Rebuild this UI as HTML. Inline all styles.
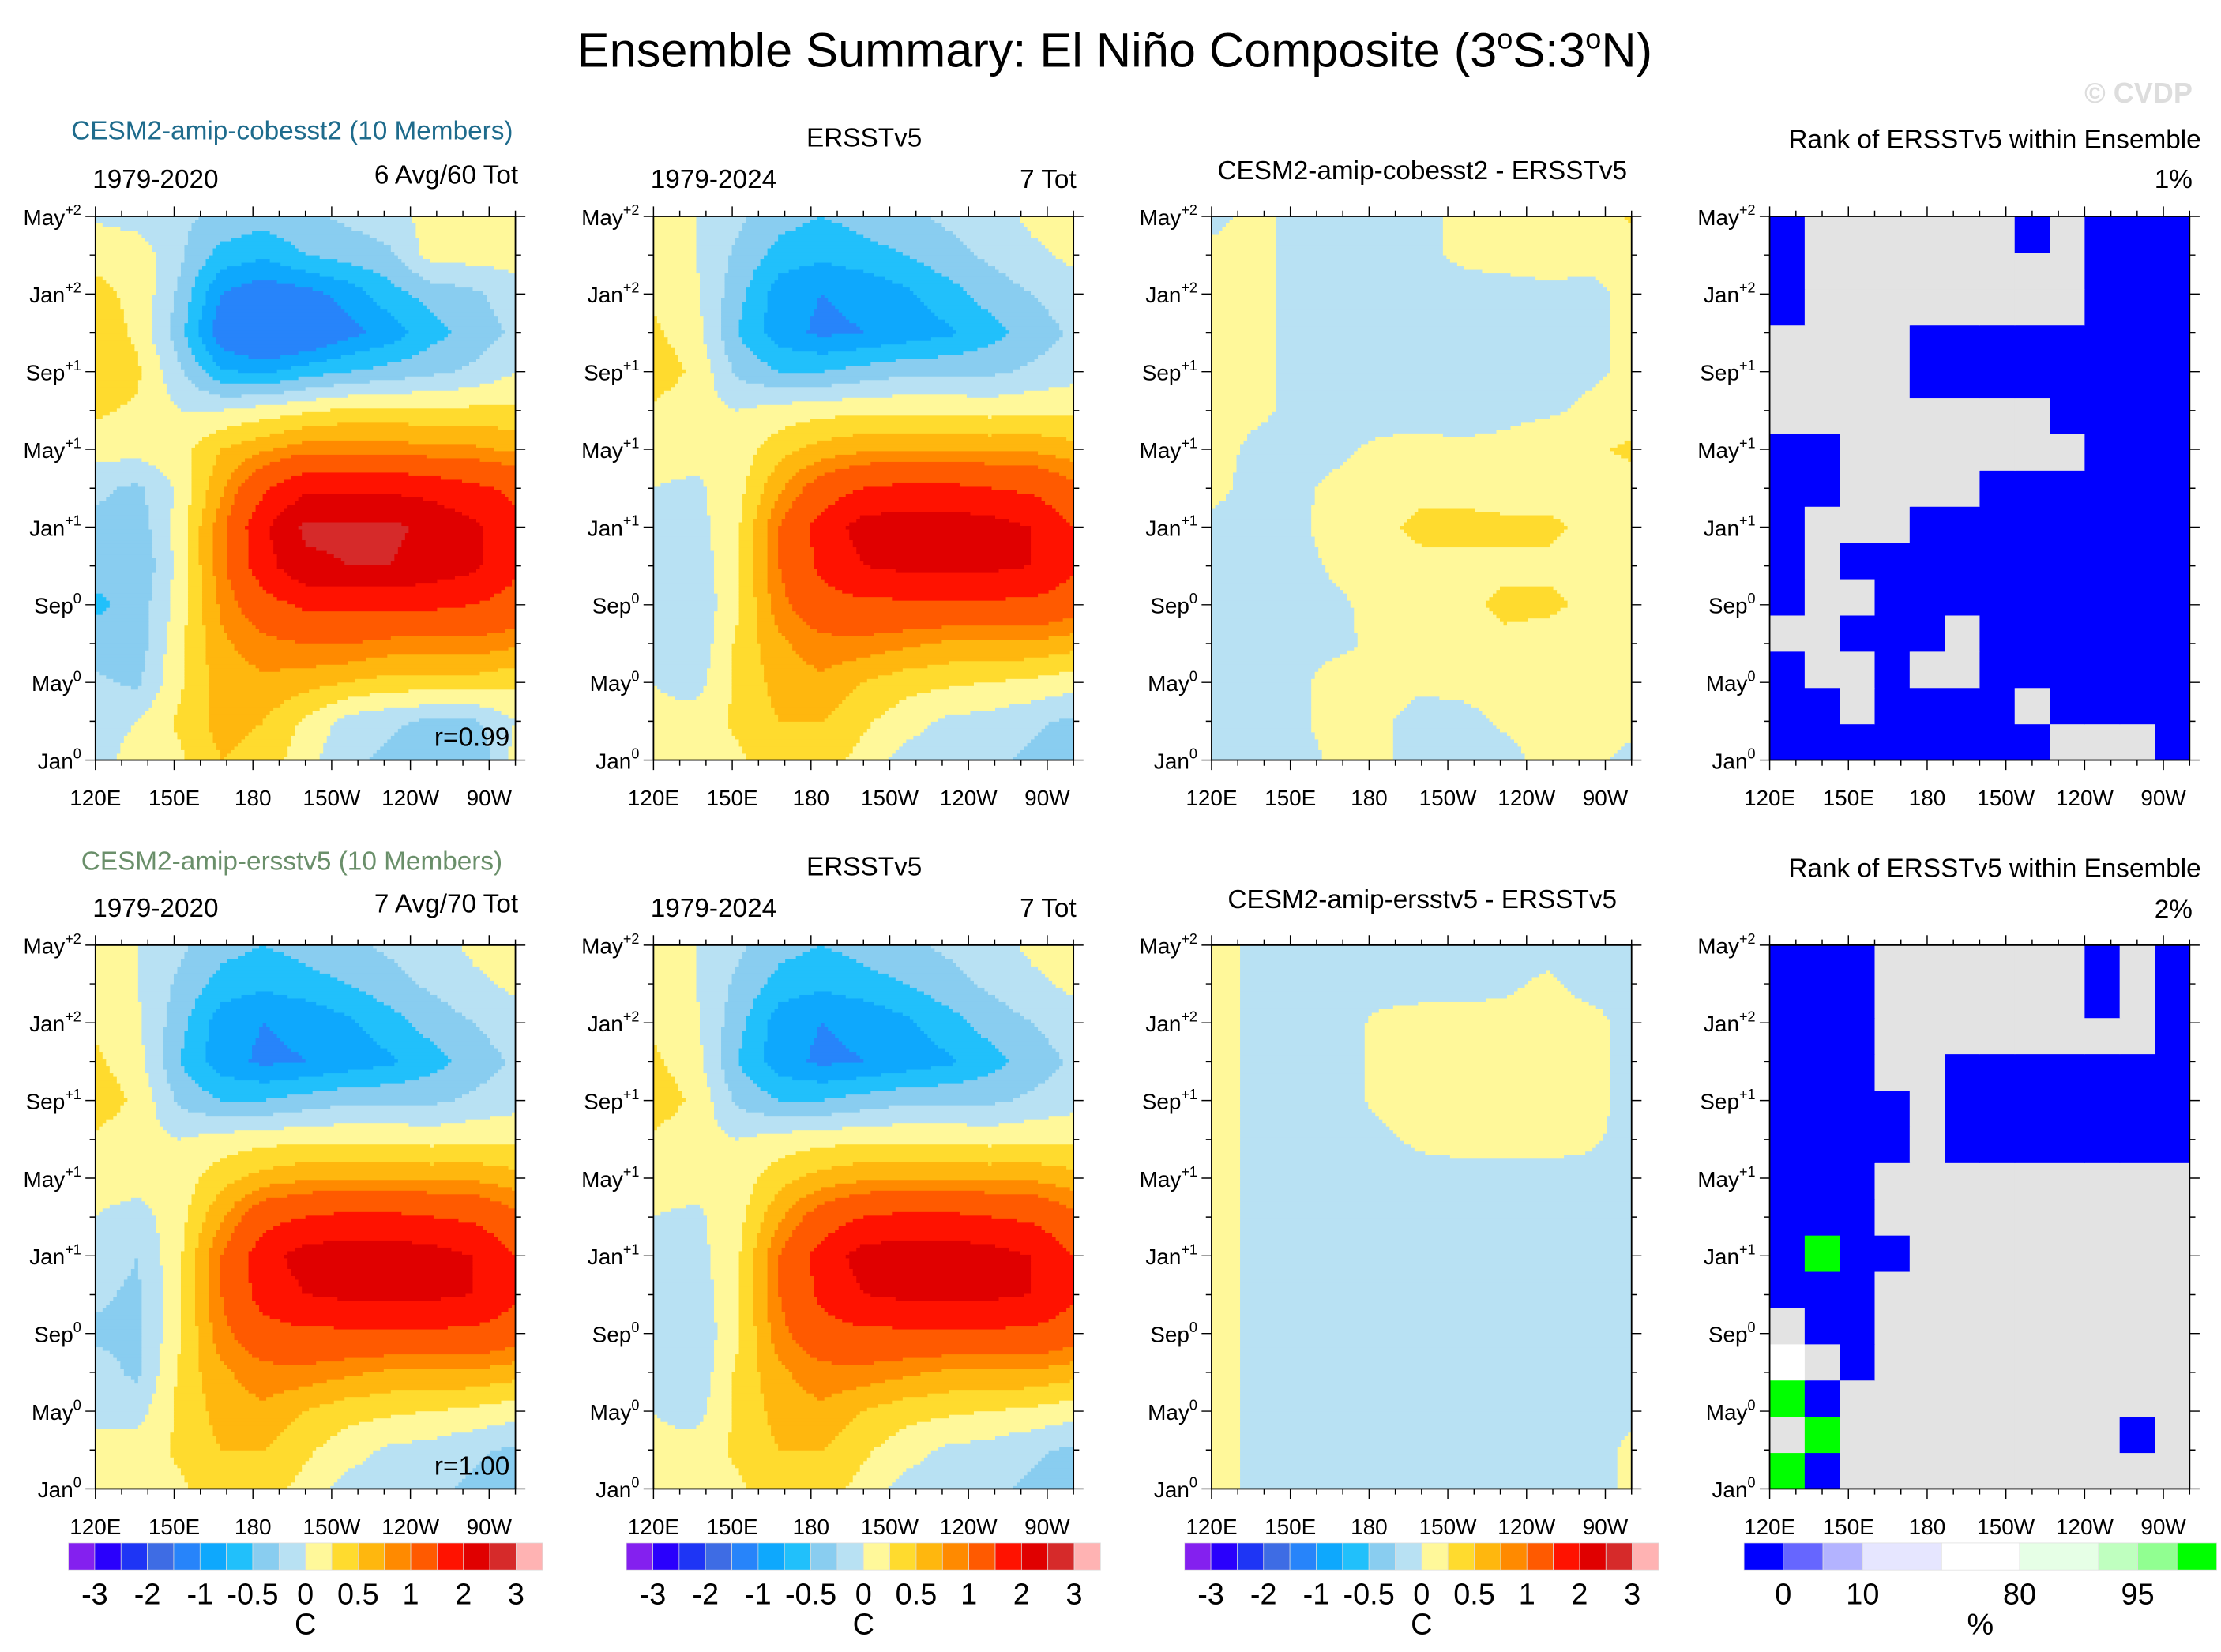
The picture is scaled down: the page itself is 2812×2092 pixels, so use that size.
<!DOCTYPE html>
<html><head><meta charset="utf-8"><style>
html,body{margin:0;padding:0;background:#fff}
svg{display:block;font-family:"Liberation Sans",Arial,sans-serif}
</style></head><body>
<svg id="fig" width="2812" height="2092" viewBox="0 0 1560 1160.6" xmlns="http://www.w3.org/2000/svg">
<rect x="0" y="0" width="1560" height="1161" fill="#fff"/>
<text x="783" y="47" font-size="34" text-anchor="middle">Ensemble Summary: El Niño Composite (3<tspan dy="-13" font-size="20">o</tspan><tspan dy="13">S:3</tspan><tspan dy="-13" font-size="20">o</tspan><tspan dy="13">N)</tspan></text>
<text x="1540" y="72" font-size="20" font-weight="bold" fill="#dddddd" text-anchor="end">© CVDP</text>
<g id="panels"></g>
</svg>
<script>
// ---- data ----
const lons = [120,136,152,168,184,200,216,232,248,264,280];
const months = [0,2,4,6,8,10,12,14,16,18,20,22,24,26,28];
const levels = [-3,-2.5,-2,-1.5,-1,-0.75,-0.5,-0.25,0,0.25,0.5,0.75,1,1.5,2,2.5,3];
const levelColors = ['#8420ef','#2a00fc','#1e35f5','#3e6ce4','#2784fa','#0ea8fd','#21c0fb','#89cdf0','#b8e1f3','#fff89a','#ffdb2e','#ffb70e','#ff8a00','#ff5a00','#ff1200','#e00000','#d62a2a','#ffb3b3'];
const colorbarLabels = ['-3','-2','-1','-0.5','0','0.5','1','2','3'];
const xTickLabels = ['120E','150E','180','150W','120W','90W'];
const xTickLons = [120,150,180,210,240,270];
const yTickLabels = [['Jan','0'],['May','0'],['Sep','0'],['Jan','+1'],['May','+1'],['Sep','+1'],['Jan','+2'],['May','+2']];
const yTickMonths = [0,4,8,12,16,20,24,28];

const fieldCobesst = [
[-0.1,0.1,0.2,0.5,0.4,0.1,-0.2,-0.3,-0.5,-0.5,0.1],
[-0.1,0,0.3,0.6,0.5,0.2,-0.1,-0.2,-0.3,-0.3,0],
[-0.2,-0.3,0.2,0.6,0.7,0.6,0.5,0.4,0.4,0.4,0.3],
[-0.4,-0.4,0.2,0.7,0.9,1.0,1.0,0.9,0.9,0.9,0.8],
[-0.55,-0.4,0.1,0.8,1.3,1.6,1.6,1.6,1.6,1.5,1.3],
[-0.4,-0.5,0.1,0.9,1.8,2.4,2.5,2.5,2.3,2.1,1.6],
[-0.3,-0.4,0.1,0.9,1.9,2.6,2.6,2.6,2.4,2.1,1.6],
[-0.2,-0.3,0.05,0.7,1.4,1.9,1.9,1.9,1.8,1.6,1.4],
[0.1,0.1,0.15,0.5,0.7,0.9,0.9,0.9,0.8,0.8,0.7],
[0.3,0.2,0,0,0.1,0.2,0.3,0.3,0.3,0.3,0.3],
[0.5,0.3,-0.2,-0.7,-0.8,-0.6,-0.5,-0.4,-0.3,-0.2,0],
[0.4,0.2,-0.4,-1.2,-1.5,-1.4,-1.1,-0.9,-0.6,-0.4,-0.2],
[0.3,0.2,-0.3,-1.0,-1.2,-1.1,-0.9,-0.6,-0.4,-0.3,-0.1],
[0.2,0.15,-0.2,-0.6,-0.7,-0.5,-0.4,-0.3,0.1,0.1,0.1],
[-0.05,-0.1,-0.2,-0.3,-0.4,-0.3,-0.2,-0.1,0.1,0.1,0.05]];
const fieldErsst = [
[0.1,0.1,0.2,0.4,0.4,0.15,-0.1,-0.1,-0.2,-0.3,-0.4],
[0.05,0.1,0.3,0.5,0.5,0.3,0.1,-0.05,-0.1,-0.2,-0.3],
[0,-0.1,0.3,0.6,0.7,0.5,0.35,0.3,0.25,0.2,0.1],
[-0.1,-0.2,0.3,0.7,0.9,0.9,0.8,0.7,0.7,0.7,0.6],
[-0.1,-0.2,0.2,0.9,1.3,1.4,1.4,1.4,1.4,1.4,1.2],
[-0.15,-0.15,0.2,1.0,1.6,2.0,2.1,2.1,2.1,2.0,1.6],
[-0.1,-0.1,0.2,1.0,1.7,2.2,2.3,2.3,2.2,2.0,1.5],
[0,-0.05,0.15,0.7,1.2,1.5,1.6,1.6,1.5,1.4,1.1],
[0.1,0.1,0.1,0.4,0.6,0.7,0.7,0.7,0.7,0.7,0.6],
[0.2,0.1,0,0.1,0.15,0.2,0.2,0.2,0.15,0.2,0.2],
[0.4,0.2,-0.3,-0.5,-0.5,-0.4,-0.3,-0.3,-0.3,-0.2,-0.1],
[0.3,0.1,-0.5,-0.9,-1.05,-1.0,-0.9,-0.8,-0.6,-0.4,-0.2],
[0.2,0.05,-0.4,-0.9,-1.0,-0.95,-0.8,-0.6,-0.4,-0.25,-0.1],
[0.1,0,-0.3,-0.6,-0.7,-0.6,-0.5,-0.35,-0.2,-0.05,0.05],
[0.05,0,-0.2,-0.4,-0.5,-0.4,-0.3,-0.2,-0.1,0.05,0.1]];
const fieldErsstEns = [
[0.1,0.1,0.2,0.4,0.4,0.15,-0.1,-0.1,-0.2,-0.3,-0.4],
[0.05,0.1,0.3,0.5,0.5,0.3,0.1,-0.05,-0.1,-0.2,-0.3],
[-0.05,-0.1,0.3,0.6,0.7,0.5,0.35,0.3,0.25,0.2,0.1],
[-0.15,-0.3,0.3,0.7,0.9,0.9,0.8,0.7,0.7,0.7,0.6],
[-0.3,-0.3,0.2,0.9,1.3,1.4,1.4,1.4,1.4,1.4,1.2],
[-0.2,-0.3,0.2,1.0,1.7,2.0,2.1,2.1,2.1,2.0,1.6],
[-0.1,-0.25,0.2,1.0,1.8,2.2,2.3,2.3,2.2,2.0,1.5],
[0,-0.1,0.15,0.7,1.3,1.5,1.6,1.6,1.5,1.4,1.1],
[0.1,0.1,0.1,0.4,0.6,0.7,0.7,0.7,0.7,0.7,0.6],
[0.2,0.1,0,0.1,0.15,0.2,0.2,0.2,0.15,0.2,0.2],
[0.4,0.2,-0.3,-0.5,-0.5,-0.4,-0.3,-0.3,-0.3,-0.2,-0.1],
[0.3,0.1,-0.5,-0.9,-1.05,-1.0,-0.9,-0.8,-0.6,-0.4,-0.2],
[0.2,0.05,-0.4,-0.9,-1.0,-0.95,-0.8,-0.6,-0.4,-0.25,-0.1],
[0.1,0,-0.3,-0.6,-0.7,-0.6,-0.5,-0.35,-0.2,-0.05,0.05],
[0.05,0,-0.2,-0.4,-0.5,-0.4,-0.3,-0.2,-0.1,0.05,0.1]];
const fieldDiffCobesst = [
[-0.1,-0.1,-0.1,0.05,0.05,-0.1,-0.1,-0.1,0.1,0.1,-0.1],
[-0.1,-0.1,-0.05,0.1,0.05,-0.1,-0.1,0.05,0.1,0.1,0.1],
[-0.1,-0.1,-0.05,0.1,0.1,0.05,0.1,0.15,0.1,0.1,0.05],
[-0.1,-0.1,-0.1,-0.05,0.05,0.1,0.15,0.2,0.15,0.1,0.05],
[-0.1,-0.15,-0.1,-0.05,0.1,0.15,0.2,0.3,0.3,0.2,0.1],
[-0.1,-0.1,-0.1,0.05,0.15,0.2,0.2,0.2,0.2,0.15,0.1],
[-0.1,-0.1,-0.05,0.1,0.2,0.3,0.3,0.3,0.3,0.2,0.1],
[0.1,-0.1,-0.05,0.05,0.15,0.2,0.2,0.15,0.15,0.15,0.15],
[0.1,-0.05,-0.05,-0.05,0.05,0.1,0.1,0.1,0.2,0.2,0.3],
[0.1,0.05,-0.05,-0.1,-0.1,-0.15,-0.2,-0.1,-0.05,0.05,0.1],
[0.1,0.05,-0.05,-0.1,-0.1,-0.1,-0.15,-0.1,-0.05,-0.05,0.05],
[0.1,0.05,-0.05,-0.1,-0.1,-0.1,-0.1,-0.1,-0.05,-0.05,0.05],
[0.1,0.05,-0.05,-0.1,-0.1,-0.1,-0.1,-0.1,-0.05,-0.05,0.05],
[0.05,0.05,-0.05,-0.1,-0.1,-0.05,0.05,0.1,0.1,0.05,0.1],
[-0.05,0.05,-0.05,-0.05,-0.1,-0.05,0.05,0.05,0.1,0.1,0.3]];
const fieldDiffErsst = [
[0.1,-0.05,-0.1,-0.1,-0.1,-0.1,-0.1,-0.1,-0.1,-0.1,0.05],
[0.1,-0.05,-0.1,-0.1,-0.1,-0.1,-0.1,-0.1,-0.1,-0.1,0.05],
[0.1,-0.05,-0.1,-0.1,-0.1,-0.1,-0.1,-0.1,-0.1,-0.1,-0.05],
[0.1,-0.05,-0.1,-0.1,-0.1,-0.1,-0.1,-0.1,-0.1,-0.1,-0.1],
[0.1,-0.05,-0.1,-0.1,-0.1,-0.1,-0.1,-0.1,-0.1,-0.1,-0.1],
[0.1,-0.05,-0.1,-0.1,-0.1,-0.1,-0.1,-0.1,-0.1,-0.1,-0.1],
[0.1,-0.05,-0.1,-0.1,-0.1,-0.1,-0.1,-0.1,-0.1,-0.1,-0.1],
[0.1,-0.05,-0.1,-0.1,-0.1,-0.1,-0.1,-0.1,-0.1,-0.1,-0.1],
[0.1,-0.05,-0.1,-0.1,-0.1,-0.1,-0.1,-0.1,-0.1,-0.1,-0.1],
[0.1,-0.05,-0.1,-0.1,-0.05,0.05,0.1,0.1,0.1,0.05,-0.1],
[0.1,-0.05,-0.1,-0.1,0.05,0.1,0.1,0.1,0.1,0.1,-0.1],
[0.1,-0.05,-0.1,-0.1,0.05,0.1,0.1,0.1,0.1,0.1,-0.1],
[0.1,-0.05,-0.1,-0.1,0.05,0.1,0.1,0.1,0.1,0.1,-0.1],
[0.1,-0.05,-0.1,-0.1,-0.1,-0.1,-0.1,-0.05,0.05,-0.1,-0.1],
[0.1,-0.05,-0.1,-0.1,-0.1,-0.1,-0.1,-0.1,-0.1,-0.1,-0.1]];
// rank categories: 0 gray, 1 blue(low), 2 green(high), 3 white
const rankColors = ['#e3e3e3','#0000ff','#00ff00','#ffffff'];
const rankTop = [
[1,1,1,1,1,1,1,1,0,0,0,1],
[1,1,0,1,1,1,1,0,1,1,1,1],
[1,0,0,1,0,0,1,1,1,1,1,1],
[0,0,1,1,1,0,1,1,1,1,1,1],
[1,0,0,1,1,1,1,1,1,1,1,1],
[1,0,1,1,1,1,1,1,1,1,1,1],
[1,0,0,0,1,1,1,1,1,1,1,1],
[1,1,0,0,0,0,1,1,1,1,1,1],
[1,1,0,0,0,0,0,0,0,1,1,1],
[0,0,0,0,0,0,0,0,1,1,1,1],
[0,0,0,0,1,1,1,1,1,1,1,1],
[0,0,0,0,1,1,1,1,1,1,1,1],
[1,0,0,0,0,0,0,0,0,1,1,1],
[1,0,0,0,0,0,0,0,0,1,1,1],
[1,0,0,0,0,0,0,1,0,1,1,1]];
const rankBottom = [
[2,1,0,0,0,0,0,0,0,0,0,0],
[0,2,0,0,0,0,0,0,0,0,1,0],
[2,1,0,0,0,0,0,0,0,0,0,0],
[3,0,1,0,0,0,0,0,0,0,0,0],
[0,1,1,0,0,0,0,0,0,0,0,0],
[1,1,1,0,0,0,0,0,0,0,0,0],
[1,2,1,1,0,0,0,0,0,0,0,0],
[1,1,1,0,0,0,0,0,0,0,0,0],
[1,1,1,0,0,0,0,0,0,0,0,0],
[1,1,1,1,0,1,1,1,1,1,1,1],
[1,1,1,1,0,1,1,1,1,1,1,1],
[1,1,1,0,0,1,1,1,1,1,1,1],
[1,1,1,0,0,0,0,0,0,0,0,1],
[1,1,1,0,0,0,0,0,0,1,0,1],
[1,1,1,0,0,0,0,0,0,1,0,1]];
const rankBarColors = ['#0000ff','#6666ff','#b3b3ff','#e6e6ff','#ffffff','#e6ffe6','#bfffbf','#91ff91','#00ff00'];
const rankBarBounds = [0,0.083,0.167,0.251,0.418,0.583,0.75,0.833,0.916,1];
const rankBarLabels = ['0','10','80','95'];

// ---- drawing ----
const NS='http://www.w3.org/2000/svg';
const root=document.getElementById('panels');
const PW=295, PH=382, LON0=120, LON1=280, M0=0, M1=28;
function mk(tag,parent){const e=document.createElementNS(NS,tag);parent.appendChild(e);return e;}
function xScale(px,lon){return px+(lon-LON0)/(LON1-LON0)*PW;}
function yScale(py,m){return py+PH-(m-M0)/(M1-M0)*PH;}
function colorFor(v){let i=0;while(i<levels.length&&v>=levels[i])i++;return levelColors[i];}
function sample(f,lon,m){
  let fi=(lon-lons[0])/(lons[1]-lons[0]);let fj=(m-months[0])/(months[1]-months[0]);
  fi=Math.max(0,Math.min(lons.length-1.0001,fi));fj=Math.max(0,Math.min(months.length-1.0001,fj));
  const i=Math.floor(fi),j=Math.floor(fj),a=fi-i,b=fj-j;
  return (f[j][i]*(1-a)+f[j][i+1]*a)*(1-b)+(f[j+1][i]*(1-a)+f[j+1][i+1]*a)*b;
}
function txt(parent,x,y,s,size,anchor,name,fill){
  const t=mk('text',parent);t.setAttribute('x',x);t.setAttribute('y',y);t.setAttribute('font-size',size);
  t.setAttribute('text-anchor',anchor||'start');if(fill)t.setAttribute('fill',fill);t.textContent=s;
  
  
  return t;
}
function drawContour(px,py,f,name){
  const g=mk('g',root);
  
  
  const step=2.5, nx=Math.ceil(PW/step), ny=Math.ceil(PH/step);
  for(let r=0;r<ny;r++){
    const y0=py+r*step, mm=M1-((r+0.5)*step)/PH*(M1-M0);
    let start=0,cur=null;
    for(let c=0;c<=nx;c++){
      let col=null;
      if(c<nx){const lon=LON0+((c+0.5)*step)/PW*(LON1-LON0);col=colorFor(sample(f,lon,mm));}
      if(col!==cur){
        if(cur!==null){const rc=mk('rect',g);rc.setAttribute('x',(px+start*step).toFixed(2));rc.setAttribute('y',y0.toFixed(2));
          rc.setAttribute('width',(Math.min((c-start)*step,PW-start*step)+0.3).toFixed(2));rc.setAttribute('height',(Math.min(step,py+PH-y0)+0.3).toFixed(2));rc.setAttribute('fill',cur);
          
          }
        cur=col;start=c;
      }
    }
  }
}
function drawRank(px,py,grid,name){
  const g=mk('g',root);
  
  
  const nc=grid[0].length, nr=grid.length, cw=PW/nc, rh=PH/nr;
  grid.forEach((row,j)=>row.forEach((v,i)=>{
    const rc=mk('rect',g);rc.setAttribute('x',(px+i*cw).toFixed(2));rc.setAttribute('y',(py+PH-(j+1)*rh).toFixed(2));
    rc.setAttribute('width',(cw+0.3).toFixed(2));rc.setAttribute('height',(rh+0.3).toFixed(2));rc.setAttribute('fill',rankColors[v]);
    
    
  }));
}
function drawAxes(px,py){
  const g=mk('g',root);
  
  
  const fr=mk('rect',g);fr.setAttribute('x',px);fr.setAttribute('y',py);fr.setAttribute('width',PW);fr.setAttribute('height',PH);
  fr.setAttribute('fill','none');fr.setAttribute('stroke','#000');fr.setAttribute('stroke-width','1');
  
  
  let d='';
  for(let lon=120;lon<=280;lon+=10){const x=xScale(px,lon),L=(lon%30===0)?7:4;d+=`M${x},${py}v${-L}M${x},${py+PH}v${L}`;}
  for(let m=0;m<=28;m+=2){const y=yScale(py,m),L=(m%4===0)?7:4;d+=`M${px},${y}h${-L}M${px+PW},${y}h${L}`;}
  const p=mk('path',g);p.setAttribute('d',d);p.setAttribute('stroke','#000');p.setAttribute('stroke-width','0.8');
  
  
  xTickLabels.forEach((s,i)=>txt(g,xScale(px,xTickLons[i]),py+PH+32,s,15.5,'middle','x-tick-label'));
  yTickLabels.forEach((s,i)=>{
    const t=txt(g,px-10,yScale(py,yTickMonths[i])+6,s[0],15.5,'end','y-tick-label');
    const ts=mk('tspan',t);ts.setAttribute('dy','-7');ts.setAttribute('font-size','10');ts.textContent=s[1];
  });
}
function drawColorbar(x0,y0,w,h){
  const g=mk('g',root);
  
  
  const bw=w/levelColors.length;
  levelColors.forEach((c,i)=>{const r=mk('rect',g);r.setAttribute('x',x0+i*bw);r.setAttribute('y',y0);r.setAttribute('width',bw);r.setAttribute('height',h);r.setAttribute('fill',c);r.setAttribute('stroke','#ddd');r.setAttribute('stroke-width','0.4');
    
    });
  colorbarLabels.forEach((s,i)=>txt(g,x0+(2*i+1)*bw,y0+h+24,s,21,'middle','colorbar-label'));
  txt(g,x0+9*bw,y0+h+45,'C',21,'middle','colorbar-units');
}
function drawRankbar(x0,y0,w,h){
  const g=mk('g',root);
  
  
  rankBarColors.forEach((c,i)=>{const r=mk('rect',g);r.setAttribute('x',x0+rankBarBounds[i]*w);r.setAttribute('y',y0);r.setAttribute('width',(rankBarBounds[i+1]-rankBarBounds[i])*w);r.setAttribute('height',h);r.setAttribute('fill',c);r.setAttribute('stroke','#ddd');r.setAttribute('stroke-width','0.4');
    
    });
  rankBarLabels.forEach((s,i)=>txt(g,x0+rankBarBounds[2*i+1]*w,y0+h+24,s,21,'middle','rank-colorbar-label'));
  txt(g,x0+0.5*w,y0+h+45,'%',21,'middle','rank-colorbar-units');
}
const cols=[67,459,851,1243], rows=[152,664];
drawContour(cols[0],rows[0],fieldCobesst,'cobesst2-ensemble-map');
drawContour(cols[1],rows[0],fieldErsst,'ersstv5-map-top');
drawContour(cols[2],rows[0],fieldDiffCobesst,'cobesst2-minus-ersst-map');
drawRank(cols[3],rows[0],rankTop,'rank-map-top');
drawContour(cols[0],rows[1],fieldErsstEns,'ersstv5-ensemble-map');
drawContour(cols[1],rows[1],fieldErsst,'ersstv5-map-bottom');
drawContour(cols[2],rows[1],fieldDiffErsst,'ersstv5-minus-ersst-map');
drawRank(cols[3],rows[1],rankBottom,'rank-map-bottom');
rows.forEach(r=>cols.forEach(c=>drawAxes(c,r)));
const L=root;
txt(L,50,98,'CESM2-amip-cobesst2 (10 Members)',18.5,'start','ensemble-title-cobesst2','#1e6b8c');
txt(L,65,132,'1979-2020',18.5,'start','period-label');
txt(L,364,129,'6 Avg/60 Tot',18.5,'end','count-label');
txt(L,358,524,'r=0.99',18.5,'end','pattern-correlation');
txt(L,607,103,'ERSSTv5',18.5,'middle','obs-title');
txt(L,457,132,'1979-2024',18.5,'start','period-label');
txt(L,756,132,'7 Tot',18.5,'end','count-label');
txt(L,999,126,'CESM2-amip-cobesst2 - ERSSTv5',18.5,'middle','difference-title');
txt(L,1546,104,'Rank of ERSSTv5 within Ensemble',18.5,'end','rank-title');
txt(L,1540,132,'1%',18.5,'end','rank-percent');
txt(L,57,611,'CESM2-amip-ersstv5 (10 Members)',18.5,'start','ensemble-title-ersstv5','#6a8f6a');
txt(L,65,644,'1979-2020',18.5,'start','period-label');
txt(L,364,641,'7 Avg/70 Tot',18.5,'end','count-label');
txt(L,358,1036,'r=1.00',18.5,'end','pattern-correlation');
txt(L,607,615,'ERSSTv5',18.5,'middle','obs-title');
txt(L,457,644,'1979-2024',18.5,'start','period-label');
txt(L,756,644,'7 Tot',18.5,'end','count-label');
txt(L,999,638,'CESM2-amip-ersstv5 - ERSSTv5',18.5,'middle','difference-title');
txt(L,1546,616,'Rank of ERSSTv5 within Ensemble',18.5,'end','rank-title');
txt(L,1540,645,'2%',18.5,'end','rank-percent');
drawColorbar(48,1084,333,19);
drawColorbar(440,1084,333,19);
drawColorbar(832,1084,333,19);
drawRankbar(1225,1084,332,19);
</script>
</body></html>
